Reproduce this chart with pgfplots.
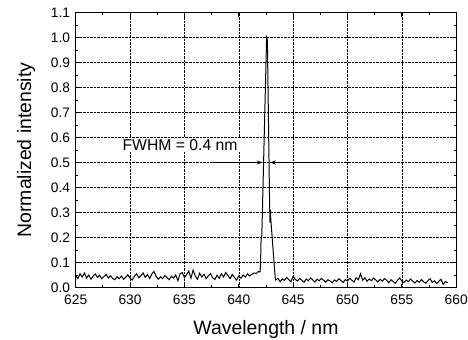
\documentclass[border=0pt]{standalone}
\usepackage{fontspec}
\setmainfont{Liberation Sans}
\usepackage{pgfplots}
\pgfplotsset{compat=1.18}
\usetikzlibrary{arrows.meta}
\begin{document}
\begin{tikzpicture}
\begin{axis}[
  scale only axis,
  width=380.5bp, height=275bp,
  xmin=625, xmax=660, ymin=0, ymax=1.1,
  xtick={625,630,...,660},
  ytick={0,0.1,...,1.1},
  minor x tick num=1, minor y tick num=1,
  tick align=inside,
  major tick length=4bp, minor tick length=2.5bp,
  xtick pos=both, ytick pos=both,
  /pgf/number format/assume math mode=true,
  yticklabel style={/pgf/number format/.cd,fixed,fixed zerofill,precision=1,/tikz/.cd,anchor=east,inner sep=0pt,xshift=-5.5bp},
  xticklabel style={/pgf/number format/.cd,fixed,precision=0,/tikz/.cd,anchor=north,inner sep=0pt,yshift=-7.5bp},
  ticklabel style={font=\fontsize{13.8}{15}\selectfont},
  xlabel={Wavelength / nm},
  ylabel={Normalized intensity},
  xlabel style={at={(axis description cs:0.5,-0.151)},anchor=center,font=\fontsize{19.5}{22}\selectfont},
  ylabel style={at={(axis description cs:-0.1306,0.5)},anchor=center,rotate=0,font=\fontsize{19.5}{22}\selectfont},
  grid=major,
  major grid style={black, densely dotted, line width=0.5pt},
  axis line style={line width=1pt},
  every tick/.style={black, line width=0.8pt},
  clip=false,
]
\addplot[black, line width=1pt] coordinates {
(625.0,.048)(625.2,.036)(625.4,.055)(625.6,.042)(625.8,.058)(626.0,.038)(626.2,.050)(626.4,.033)(626.6,.046)(626.8,.054)
(627.0,.040)(627.2,.049)(627.4,.035)(627.6,.044)(627.8,.052)(628.0,.038)(628.2,.047)(628.4,.036)(628.6,.031)(628.8,.043)
(629.0,.035)(629.2,.046)(629.4,.033)(629.6,.041)(629.8,.051)(630.0,.037)(630.2,.030)(630.4,.045)(630.6,.055)(630.8,.039)
(631.0,.047)(631.2,.058)(631.4,.041)(631.6,.052)(631.8,.036)(632.0,.054)(632.2,.064)(632.4,.045)(632.6,.033)(632.8,.043)
(633.0,.036)(633.2,.047)(633.4,.040)(633.6,.031)(633.8,.045)(634.0,.038)(634.2,.050)(634.4,.027)(634.6,.055)(634.8,.060)
(635.0,.039)(635.2,.052)(635.4,.066)(635.6,.037)(635.8,.070)(636.0,.046)(636.2,.033)(636.4,.057)(636.6,.042)(636.8,.053)
(637.0,.035)(637.2,.047)(637.4,.056)(637.6,.039)(637.8,.032)(638.0,.049)(638.2,.037)(638.4,.055)(638.6,.042)(638.8,.060)
(639.0,.048)(639.2,.036)(639.4,.052)(639.6,.040)(639.8,.030)(640.0,.046)(640.2,.037)(640.4,.050)(640.6,.042)(640.8,.055)
(641.0,.046)(641.2,.053)(641.4,.058)(641.6,.056)(641.8,.064)(641.95,.062)
(642.0,.09)(642.05,.19)(642.12,.21)(642.56,1.0)(642.63,.99)(642.84,.32)(642.87,.26)(642.9,.31)(642.95,.27)(643.35,.04)(643.4,.03)
(643.6,.037)(643.8,.024)(644.0,.034)(644.2,.029)(644.4,.040)(644.6,.031)(644.8,.023)(645.0,.045)(645.2,.032)(645.4,.026)
(645.6,.036)(645.8,.029)(646.0,.021)(646.2,.034)(646.4,.027)(646.6,.038)(646.8,.031)(647.0,.022)(647.2,.033)(647.4,.027)
(647.6,.036)(647.8,.029)(648.0,.021)(648.2,.031)(648.4,.026)(648.6,.019)(648.8,.030)(649.0,.024)(649.2,.035)(649.4,.028)
(649.6,.020)(649.8,.032)(650.0,.026)(650.2,.037)(650.4,.029)(650.6,.022)(650.8,.039)(651.0,.031)(651.2,.055)(651.4,.029)
(651.6,.039)(651.8,.025)(652.0,.034)(652.2,.027)(652.4,.038)(652.6,.030)(652.8,.022)(653.0,.033)(653.2,.025)(653.4,.036)
(653.6,.029)(653.8,.019)(654.0,.031)(654.2,.024)(654.4,.017)(654.6,.029)(654.8,.038)(655.0,.026)(655.2,.020)(655.4,.030)
(655.6,.023)(655.8,.034)(656.0,.025)(656.2,.018)(656.4,.028)(656.6,.021)(656.8,.032)(657.0,.023)(657.2,.017)(657.4,.028)
(657.6,.035)(657.8,.020)(658.0,.027)(658.2,.016)(658.4,.025)(658.6,.033)(658.8,.013)(659.0,.024)(659.2,.019)
};
\node[fill=white, inner xsep=13bp, inner ysep=1bp, font=\fontsize{15.8}{18}\selectfont]
  at (axis cs:634.6,0.57) {FWHM = 0.4 nm};
\draw[black, line width=1pt, -{Stealth[length=6bp,width=4bp]}] (axis cs:637.4,0.5) -- (axis cs:642.2,0.5);
\draw[black, line width=1pt, -{Stealth[length=6bp,width=4bp]}] (axis cs:647.6,0.5) -- (axis cs:642.85,0.5);
\coordinate (bl) at (axis description cs:-0.199,-0.1873);
\coordinate (tr) at (axis description cs:1.031,1.0455);
\end{axis}
\pgfresetboundingbox
\path[use as bounding box] (bl) rectangle (tr);
\end{tikzpicture}
\end{document}
